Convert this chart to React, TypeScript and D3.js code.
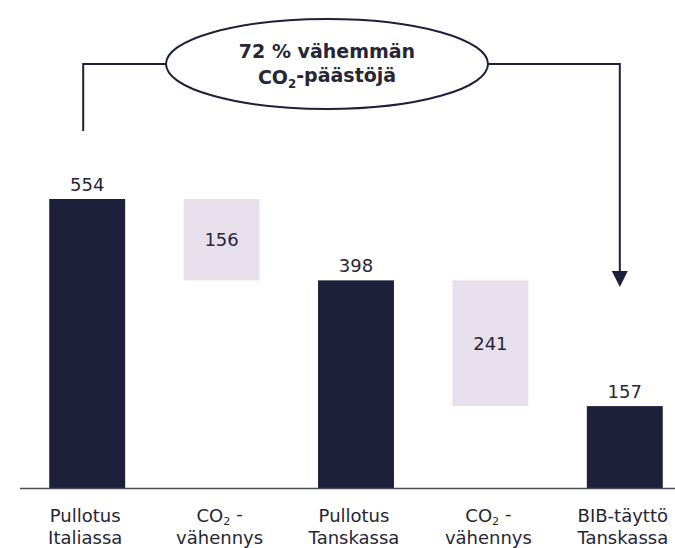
import React from "react";
import * as d3 from "d3";

const labelsTop = ["Pullotus", "CO2 -", "Pullotus", "CO2 -", "BIB-täyttö"];
const labelsBottom = ["Italiassa", "vähennys", "Tanskassa", "vähennys", "Tanskassa"];
const values = [554, -156, 398, -241, 157];
const kinds = ["total", "delta", "total", "delta", "total"];
const calloutLine1 = "72 % vähemmän";
const calloutLine2 = ["CO", "2", "-päästöjä"];

const W = 675;
const H = 548;
const NAVY = "#1e1f3a";
const PINK = "#e8dfed";
const TEXT = "#262636";
const FONT = "'DejaVu Sans', sans-serif";

function renderCO2(text: string) {
  if (text.startsWith("CO2")) {
    const rest = text.slice(3);
    return (
      <>
        <tspan>CO</tspan>
        <tspan fontSize="0.62em" dy="0.3em">2</tspan>
        <tspan dy="-0.3em">{rest}</tspan>
      </>
    );
  }
  return text;
}

export default function App() {
  const x = d3
    .scaleBand<number>()
    .domain(d3.range(values.length))
    .range([20, 692])
    .paddingInner(0.435)
    .paddingOuter(0.2175);
  const y = d3.scaleLinear().domain([0, 554]).range([488, 199]);

  let running = 0;
  const bars = values.map((v, i) => {
    let lo: number, hi: number;
    if (kinds[i] === "total") {
      lo = 0;
      hi = v;
      running = v;
    } else {
      const next = running + v;
      lo = Math.min(running, next);
      hi = Math.max(running, next);
      running = next;
    }
    return { i, lo, hi, v, kind: kinds[i] };
  });

  const bw = x.bandwidth();
  const leftX = (x(0) as number) + bw / 2 - 4;
  const rightX = (x(4) as number) + bw / 2 - 5;
  const cx = 327;
  const cy = 64;
  const rx = 161;
  const ry = 45;
  const leftBottom = y(values[0]) - 68;
  const arrowTip = y(values[4]) - 119;

  return (
    <svg width={W} height={H} style={{ position: "absolute", left: 0, top: 0 }} fontFamily={FONT}>
      <rect width={W} height={H} fill="#ffffff" />
      {bars.map((b) => (
        <rect
          key={b.i}
          x={x(b.i)}
          y={y(b.hi)}
          width={bw}
          height={y(b.lo) - y(b.hi)}
          fill={b.kind === "total" ? NAVY : PINK}
        />
      ))}
      <line x1={20} x2={W} y1={y(0) + 0.5} y2={y(0) + 0.5} stroke="#4a4b5c" strokeWidth={1.5} />
      {bars.map((b) =>
        b.kind === "total" ? (
          <text key={"v" + b.i} x={(x(b.i) as number) + bw / 2} y={y(b.hi) - 8} textAnchor="middle" fontSize={18} fill={TEXT}>
            {Math.abs(b.v)}
          </text>
        ) : (
          <text
            key={"v" + b.i}
            x={(x(b.i) as number) + bw / 2}
            y={(y(b.hi) + y(b.lo)) / 2}
            dy="0.35em"
            textAnchor="middle"
            fontSize={18}
            fill={TEXT}
          >
            {Math.abs(b.v)}
          </text>
        )
      )}
      {labelsTop.map((t, i) => (
        <text key={"c" + i} x={(x(i) as number) + bw / 2 - 2} y={522} textAnchor="middle" fontSize={18} fill={TEXT}>
          {renderCO2(t)}
        </text>
      ))}
      {labelsBottom.map((t, i) => (
        <text key={"d" + i} x={(x(i) as number) + bw / 2 - 2} y={544} textAnchor="middle" fontSize={18} fill={TEXT}>
          {t}
        </text>
      ))}
      <path d={`M${leftX},${leftBottom}V${cy}H${cx - rx}`} fill="none" stroke={NAVY} strokeWidth={2} />
      <path d={`M${cx + rx},${cy}H${rightX}V${arrowTip - 14}`} fill="none" stroke={NAVY} strokeWidth={2} />
      <path d={`M${rightX - 8},${arrowTip - 16}L${rightX + 8},${arrowTip - 16}L${rightX},${arrowTip}Z`} fill={NAVY} />
      <ellipse cx={cx} cy={cy} rx={rx} ry={ry} fill="#ffffff" stroke={NAVY} strokeWidth={2} />
      <text x={cx} y={cy - 6} textAnchor="middle" fontSize={19} fontWeight="bold" fill={TEXT}>
        {calloutLine1}
      </text>
      <text x={cx} y={cy + 20} textAnchor="middle" fontSize={19} fontWeight="bold" fill={TEXT}>
        <tspan>{calloutLine2[0]}</tspan>
        <tspan fontSize="0.62em" dy="0.3em">{calloutLine2[1]}</tspan>
        <tspan dy="-0.3em">{calloutLine2[2]}</tspan>
      </text>
    </svg>
  );
}
